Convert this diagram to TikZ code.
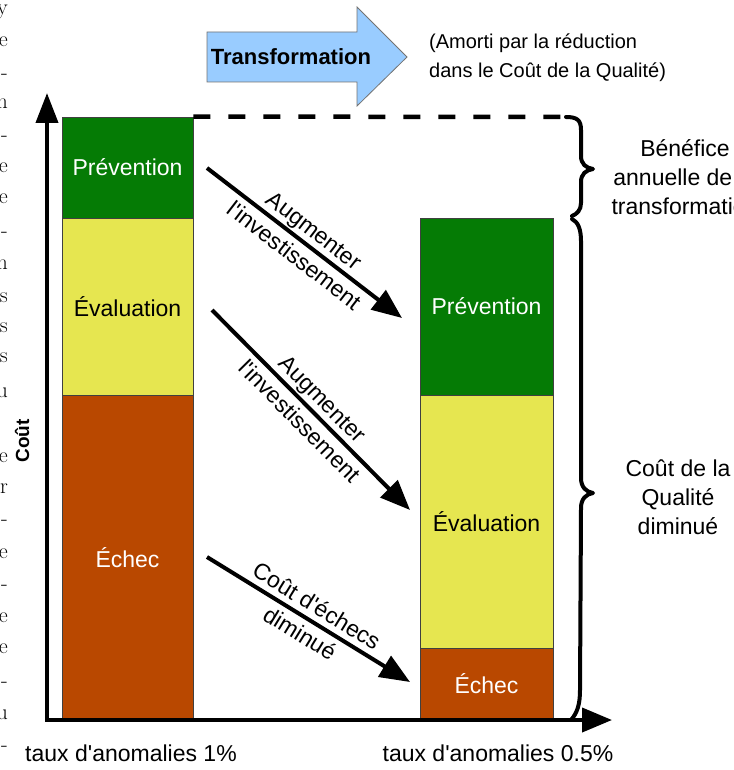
\documentclass[tikz,border=0pt]{standalone}
\usepackage{fontspec}
\newfontfamily\labelfont{Liberation Sans}
\usetikzlibrary{arrows.meta}

\definecolor{prevgreen}{RGB}{5,123,5}
\definecolor{evalyellow}{RGB}{230,230,80}
\definecolor{failbrown}{RGB}{185,72,0}
\definecolor{arrowblue}{RGB}{153,204,255}

\tikzset{
  lbl/.style={font=\labelfont\fontsize{23}{29}\selectfont, inner sep=0pt},
  diaglbl/.style={font=\labelfont\fontsize{23}{32}\selectfont, inner sep=0pt, midway, sloped, align=center},
  seg/.style={draw=black!75, line width=0.9pt, inner sep=0pt, lbl},
  axisline/.style={line width=4pt, {Triangle[length=30pt,width=22pt]}-{Triangle[length=30pt,width=24pt]}},
  diag/.style={line width=4pt, -{Triangle[length=30pt,width=24pt]}},
  bracepath/.style={line width=4pt, line cap=round, line join=round},
  dashline/.style={line width=4.5pt, dash pattern=on 17pt off 18pt},
  marginchar/.style={font=\fontsize{22}{26}\selectfont, inner sep=0pt, anchor=base east}
}

\begin{document}
\begin{tikzpicture}[x=1pt, y=-1pt]
\useasboundingbox (0,0) rectangle (733,770);

% running text of the surrounding page, cut at the left edge
\foreach \yy/\ch [count=\i] in {10/y,42/e,75/-,104/n,137/-,167/e,198/e,232/-,264/n,297/s,327/s,357/s,392/u,457/e,488/r,520/-,553/e,585/-,617/e,648/e,682/-,714/u,746/-}
  \node[marginchar] (m\i) at (8,\yy+5) {\ch};

% transformation arrow
\draw[fill=arrowblue, draw=black!55, line width=0.8pt]
  (207,32) -- (357,32) -- (357,7) -- (407,57) -- (357,106) -- (357,82) -- (207,82) -- cycle;
\node[font=\labelfont\bfseries\fontsize{22}{26}\selectfont] (trans) at (291,57) {Transformation};
\node[lbl, font=\labelfont\fontsize{20}{29}\selectfont, align=left, anchor=west] (amorti) at (429,58)
  {(Amorti par la réduction\\dans le Coût de la Qualité)};

% cost bars before the transformation
\node[seg, fill=prevgreen, text=white, minimum width=131pt, minimum height=101pt] (lp) at (127.5,167.5) {Prévention};
\node[seg, fill=evalyellow, text=black, minimum width=131pt, minimum height=177pt] (le) at (127.5,306.5) {Évaluation};
\node[seg, fill=failbrown, text=white, minimum width=131pt, minimum height=325pt] (lf) at (127.5,557.5) {Échec};

% cost bars after the transformation
\node[seg, fill=prevgreen, text=white, minimum width=133pt, minimum height=177pt] (rp) at (486.5,306.5) {Prévention};
\node[seg, fill=evalyellow, text=black, minimum width=133pt, minimum height=253pt] (re) at (486.5,521.5) {Évaluation};
\node[seg, fill=failbrown, text=white, minimum width=133pt, minimum height=72pt] (rf) at (486.5,684) {Échec};

% former total cost level and braces
\coordinate (bracetop) at (566,117);
\draw[dashline] (lp.north east) -- (bracetop);
\draw[bracepath] (bracetop) .. controls (577,117) and (581,120) .. (581,130) -- (581,156)
  .. controls (581,164) and (586,168) .. (593,169)
  .. controls (586,170) and (581,174) .. (581,182) -- (581,203)
  .. controls (581,210) and (577,214) .. (572,216);
\draw[bracepath] (572,219) .. controls (578,222) and (581,229) .. (581,241) -- (581,478)
  .. controls (581,487) and (586,492) .. (593,493)
  .. controls (586,494) and (581,499) .. (581,508) -- (580,690)
  .. controls (580,705) and (577,713) .. (571,720);

\node[lbl, align=center] (benefit) at (685,177) {Bénéfice\\annuelle de la\\transformation};
\node[lbl, align=center] (reduced) at (678,497) {Coût de la\\Qualité\\diminué};

% shifts between the two situations
\coordinate (d1s) at (207,168);
\coordinate (d1e) at (402,318);
\coordinate (d2s) at (212,310);
\coordinate (d2e) at (410,510);
\coordinate (d3s) at (207,557);
\coordinate (d3e) at (410,682);
\draw[diag] (d1s) -- (d1e) node[diaglbl] (t1) {Augmenter\\l'investissement};
\draw[diag] (d2s) -- (d2e) node[diaglbl] (t2) {Augmenter\\l'investissement};
\draw[diag] (d3s) -- (d3e) node[diaglbl] (t3) {Coût d'échecs\\diminué};

% axes
\coordinate (origin) at (47,720);
\coordinate (ytip) at (47,93);
\coordinate (xtip) at (612,720);
\draw[axisline, line join=miter] (ytip) -- (origin) -- (xtip);
\node[font=\labelfont\bfseries\fontsize{19}{23}\selectfont, rotate=90] (ylab) at (22,441) {Coût};
\node[lbl] (x1) at (131,753) {taux d'anomalies 1\%};
\node[lbl] (x2) at (498,753) {taux d'anomalies 0.5\%};
\end{tikzpicture}
\end{document}
